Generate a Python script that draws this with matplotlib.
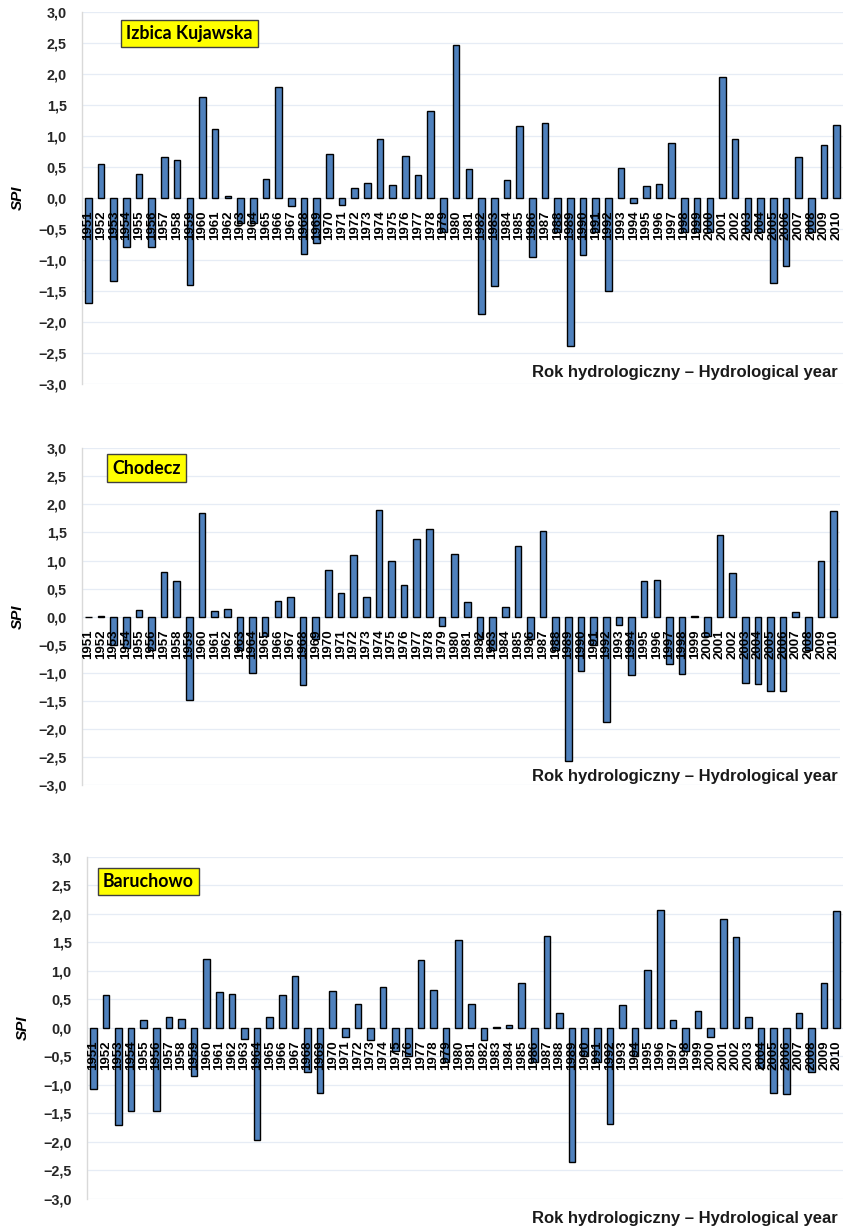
import matplotlib
matplotlib.use("Agg")
import matplotlib.pyplot as plt
from matplotlib.ticker import FixedLocator

years = list(range(1951, 2011))

izbica = [-1.70, 0.55, -1.34, -0.79, 0.39, -0.79, 0.65, 0.61, -1.41, 1.62,
          1.11, 0.02, -0.40, -0.40, 0.30, 1.78, -0.13, -0.90, -0.73, 0.70,
          -0.11, 0.15, 0.23, 0.95, 0.20, 0.68, 0.37, 1.40, -0.55, 2.47,
          0.46, -1.87, -1.42, 0.28, 1.15, -0.95, 1.21, -0.55, -2.39, -0.92,
          -0.55, -1.50, 0.48, -0.08, 0.19, 0.22, 0.88, -0.55, -0.55, -0.55,
          1.95, 0.94, -0.55, -0.55, -1.37, -1.10, 0.65, -0.55, 0.85, 1.17]

chodecz = [0.00, 0.02, -0.50, -0.55, 0.12, -0.60, 0.80, 0.64, -1.49, 1.85,
           0.10, 0.13, -0.60, -1.01, -0.35, 0.28, 0.35, -1.22, -0.40, 0.83,
           0.42, 1.09, 0.35, 1.90, 1.00, 0.56, 1.38, 1.56, -0.16, 1.11,
           0.26, -0.40, -0.60, 0.18, 1.26, -0.40, 1.53, -0.60, -2.57, -0.96,
           -0.50, -1.87, -0.15, -1.04, 0.64, 0.65, -0.85, -1.03, 0.02, -0.35,
           1.46, 0.77, -1.18, -1.20, -1.32, -1.32, 0.08, -0.60, 1.00, 1.88]

baruchowo = [-1.07, 0.58, -1.71, -1.47, 0.13, -1.46, 0.19, 0.15, -0.85, 1.20,
             0.63, 0.60, -0.20, -1.97, 0.18, 0.58, 0.91, -0.77, -1.15, 0.65,
             -0.16, 0.42, -0.22, 0.72, -0.40, -0.50, 1.19, 0.67, -0.60, 1.53,
             0.42, -0.22, 0.02, 0.04, 0.78, -0.60, 1.61, 0.26, -2.35, -0.50,
             -0.60, -1.69, 0.39, -0.50, 1.02, 2.06, 0.13, -0.40, 0.29, -0.16,
             1.91, 1.60, 0.19, -0.70, -1.15, -1.17, 0.25, -0.77, 0.79, 2.05]

stations = ["Izbica Kujawska", "Chodecz", "Baruchowo"]
series = [izbica, chodecz, baruchowo]
yticks = [-3.0, -2.5, -2.0, -1.5, -1.0, -0.5, 0.0, 0.5, 1.0, 1.5, 2.0, 2.5, 3.0]
xlabel_text = "Rok hydrologiczny \u2013 Hydrological year"
ylabel_text = "SPI"

W, H = 845, 1231
fig = plt.figure(figsize=(W / 100, H / 100), dpi=100)

# (left px, right px, top px, bottom px)
frames = [(82, 843, 11.7, 383.7), (82, 840, 448.3, 785.0), (87, 843, 856.7, 1198.7)]
xlabel_y = [373, 777, 1219]
boxes = [(121, 33.5), (107, 468), (98, 881.5)]

bar_color = "#4F81BD"
grid_color = "#E6ECF5"

def fmt(v):
    s = f"{v:.1f}".replace(".", ",")
    if v < 0:
        s = "\u2212" + s[1:]
    return s

for k, (name, vals) in enumerate(zip(stations, series)):
    l, r, t, b = frames[k]
    ax = fig.add_axes([l / W, 1 - b / H, (r - l) / W, (b - t) / H])
    x = list(range(len(years)))
    ax.bar(x, vals, width=0.52, color=bar_color, edgecolor="black", linewidth=1.0, zorder=2)
    ax.set_xlim(-0.5, len(years) - 0.5)
    ax.set_ylim(-3.0, 3.0)
    ax.yaxis.set_major_locator(FixedLocator(yticks))
    ax.set_yticklabels([fmt(v) for v in yticks], fontsize=10.4, fontweight="bold",
                       family="Liberation Sans", color="#262626")
    ax.tick_params(axis="y", length=0, pad=11)
    ax.set_xticks([])
    for s in ["top", "right", "bottom"]:
        ax.spines[s].set_visible(False)
    ax.spines["left"].set_color("#D9D9D9")
    ax.spines["left"].set_linewidth(1.0)
    for v in yticks:
        ax.axhline(v, color=grid_color, linewidth=0.9, zorder=0)
    for i, yr in enumerate(years):
        ax.annotate(str(yr), xy=(i, 0), xytext=(0, -9.2), textcoords="offset points",
                    rotation=90, ha="center", va="top", fontsize=9.5,
                    fontweight="bold", family="Liberation Sans", color="black",
                    zorder=5, annotation_clip=False)
    ax.set_ylabel(ylabel_text, fontsize=11, fontweight="bold", fontstyle="italic",
                  family="Liberation Sans", labelpad=10)
    bx, by = boxes[k]
    fig.text(bx / W + 0.006, 1 - by / H, name, fontsize=12.8, fontweight="bold",
             family="Lato", ha="left", va="center",
             bbox=dict(boxstyle="square,pad=0.3", facecolor="#FFFF00",
                       edgecolor="#404040", linewidth=1.0))
    fig.text(838 / W, 1 - xlabel_y[k] / H, xlabel_text, fontsize=12,
             fontweight="bold", family="Liberation Sans", ha="right", va="center",
             color="#1a1a1a")

fig.savefig("out.png", dpi=100)
